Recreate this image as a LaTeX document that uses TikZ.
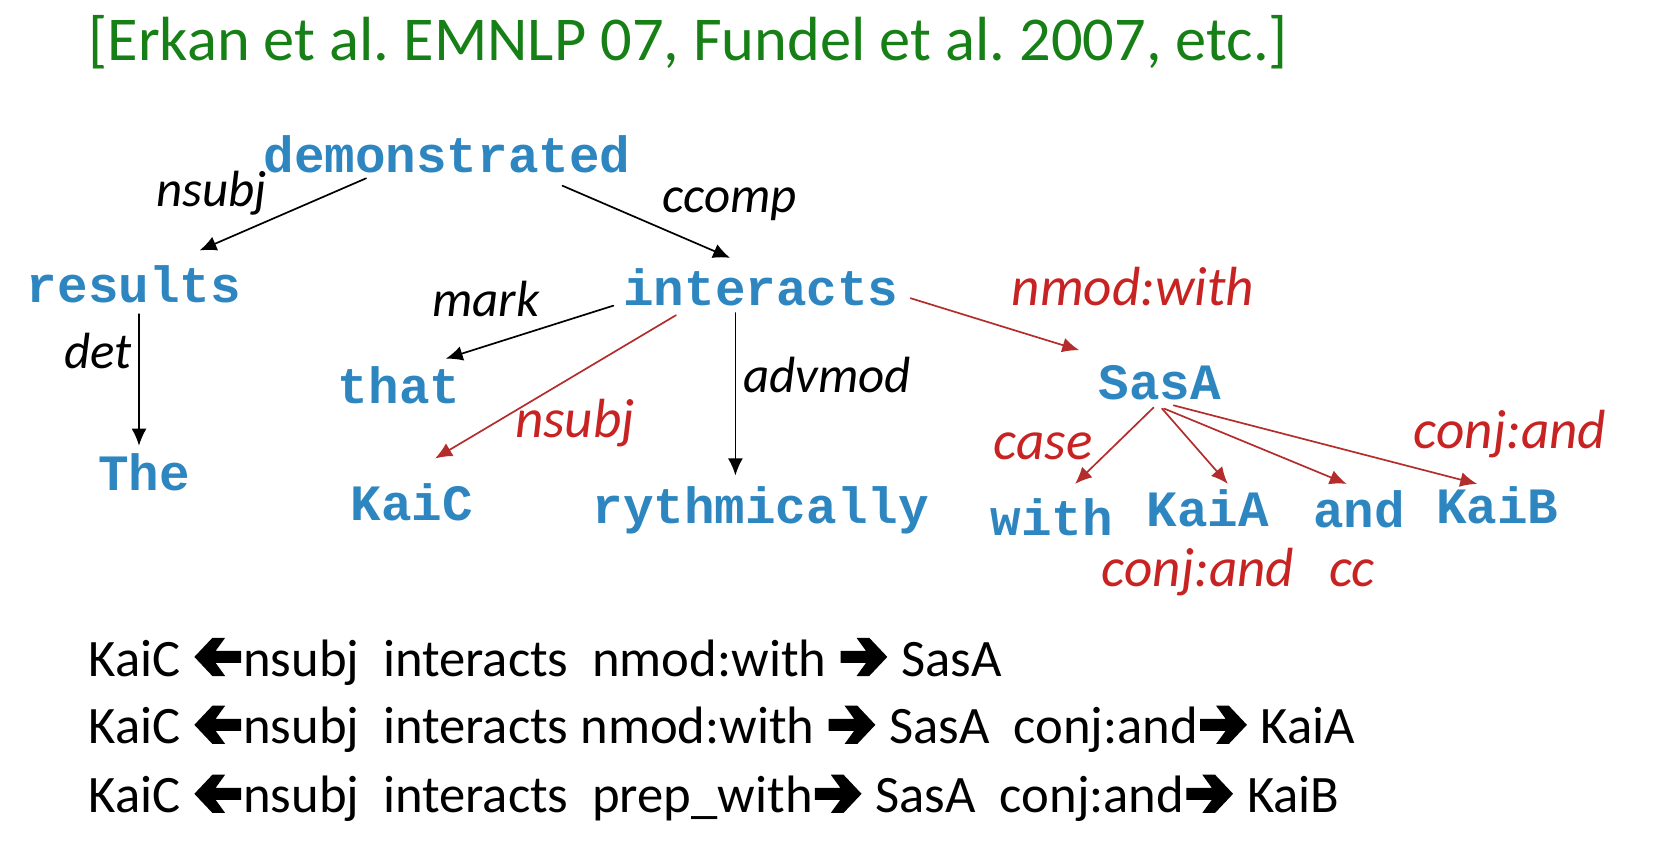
\documentclass[tikz,border=0pt]{standalone}
\usepackage{fontspec}
\usepackage{xcolor}
\setmainfont{Carlito}
\newfontfamily\wordfont{Liberation Mono}
\usetikzlibrary{arrows.meta}
\definecolor{wordblue}{RGB}{46,134,193}
\definecolor{relred}{RGB}{200,35,35}
\definecolor{arrred}{RGB}{180,45,45}
\definecolor{refgreen}{RGB}{22,128,22}
\newcommand{\rarr}{\hspace{1pt}\tikz[x=1pt,y=1pt,baseline=0pt]\fill (0,6.2) -- (12,6.2) -- (7.5,0) -- (13.5,0) -- (22,9) -- (13.5,18) -- (7.5,18) -- (12,11.8) -- (0,11.8) -- cycle;\hspace{1pt}}
\newcommand{\larr}{\hspace{1pt}\tikz[x=-1pt,y=1pt,baseline=0pt]\fill (0,6.2) -- (12,6.2) -- (7.5,0) -- (13.5,0) -- (22,9) -- (13.5,18) -- (7.5,18) -- (12,11.8) -- (0,11.8) -- cycle;\hspace{1pt}}
\frenchspacing

\begin{document}
\begin{tikzpicture}[x=0.5pt, y=-0.5pt, line cap=round, line join=round,
  word/.style={font=\wordfont\bfseries\fontsize{24}{24}\selectfont, text=wordblue, inner sep=0pt, anchor=base west},
  rel/.style={font=\itshape\fontsize{24}{24}\selectfont, inner sep=0pt, anchor=base west},
  redrel/.style={rel, font=\itshape\fontsize{26}{26}\selectfont, text=relred},
  dep/.style={-{Latex[length=8pt,width=7pt]}, line width=0.8pt},
  reddep/.style={dep, draw=arrred, fill=arrred},
  path/.style={font=\fontsize{24.8}{24.8}\selectfont, inner sep=0pt, anchor=base west}]
\useasboundingbox (0,0) rectangle (1568,816);

\node[font=\fontsize{29.4}{29.4}\selectfont, text=refgreen, inner sep=0pt, anchor=base west]
  (cite) at (83,57) {[Erkan et al. EMNLP 07, Fundel et al. 2007, etc.]};

\node[word] (dem) at (248,163) {demonstrated};
\node[word] (res) at (25,285) {results};
\node[word] (the) at (92,462) {The};
\node[word] (int) at (587,288) {interacts};
\node[word] (that) at (318,380) {that};
\node[word] (kaic) at (330,490) {KaiC};
\node[word] (ryth) at (558,493) {rythmically};
\node[word] (sasa) at (1035,376) {SasA};
\node[word] (with) at (933,505) {with};
\node[word] (kaia) at (1080,496) {KaiA};
\node[word] (and) at (1237,497) {and};
\node[word] (kaib) at (1353,493) {KaiB};

\draw[dep] ([shift={(97,5)}]dem.base west) -- ([shift={(163,-49)}]res.base west);
\draw[dep] ([shift={(282,12)}]dem.base west) -- ([shift={(101,-45)}]int.base west);
\draw[dep] ([shift={(106,11)}]res.base west) -- ([shift={(39,-42)}]the.base west);
\draw[dep] ([shift={(-9,0)}]int.base west) -- ([shift={(102,-42)}]that.base west);
\draw[reddep] ([shift={(50,9)}]int.base west) -- ([shift={(80,-58)}]kaic.base west);
\draw[dep] ([shift={(106,7)}]int.base west) -- ([shift={(135,-45)}]ryth.base west);
\draw[reddep] ([shift={(271,-7)}]int.base west) -- ([shift={(-18,-46)}]sasa.base west);
\draw[reddep] ([shift={(52,8)}]sasa.base west) -- ([shift={(80,-49)}]with.base west);
\draw[reddep] ([shift={(60,9)}]sasa.base west) -- ([shift={(77,-40)}]kaia.base west);
\draw[reddep] ([shift={(62,9)}]sasa.base west) -- ([shift={(32,-41)}]and.base west);
\draw[reddep] ([shift={(71,6)}]sasa.base west) -- ([shift={(39,-37)}]kaib.base west);

\node[rel] (nsubja) at (147,195) {nsubj};
\node[rel] (ccomp) at (624,200) {ccomp};
\node[rel] (mark) at (407,298) {mark};
\node[rel] (det) at (60,347) {det};
\node[rel] (advmod) at (700,370) {advmod};
\node[redrel] (nsubjb) at (485,412) {nsubj};
\node[redrel] (nmod) at (953,288) {nmod:with};
\node[redrel] (case) at (936,433) {case};
\node[redrel] (conja) at (1332,423) {conj:and};
\node[redrel] (conjb) at (1038,553) {conj:and};
\node[redrel] (cc) at (1252,553) {cc};

\node[path] (pa) at (83,637) {KaiC \larr nsubj\ \ interacts\ \ nmod:with \rarr\ SasA};
\node[path] (pb) at (83,701) {KaiC \larr nsubj\ \ interacts nmod:with \rarr\ SasA\ \ conj:and\rarr\ KaiA};
\node[path] (pc) at (83,766) {KaiC \larr nsubj\ \ interacts\ \ prep\_with\rarr\ SasA\ \ conj:and\rarr\ KaiB};
\end{tikzpicture}
\end{document}
